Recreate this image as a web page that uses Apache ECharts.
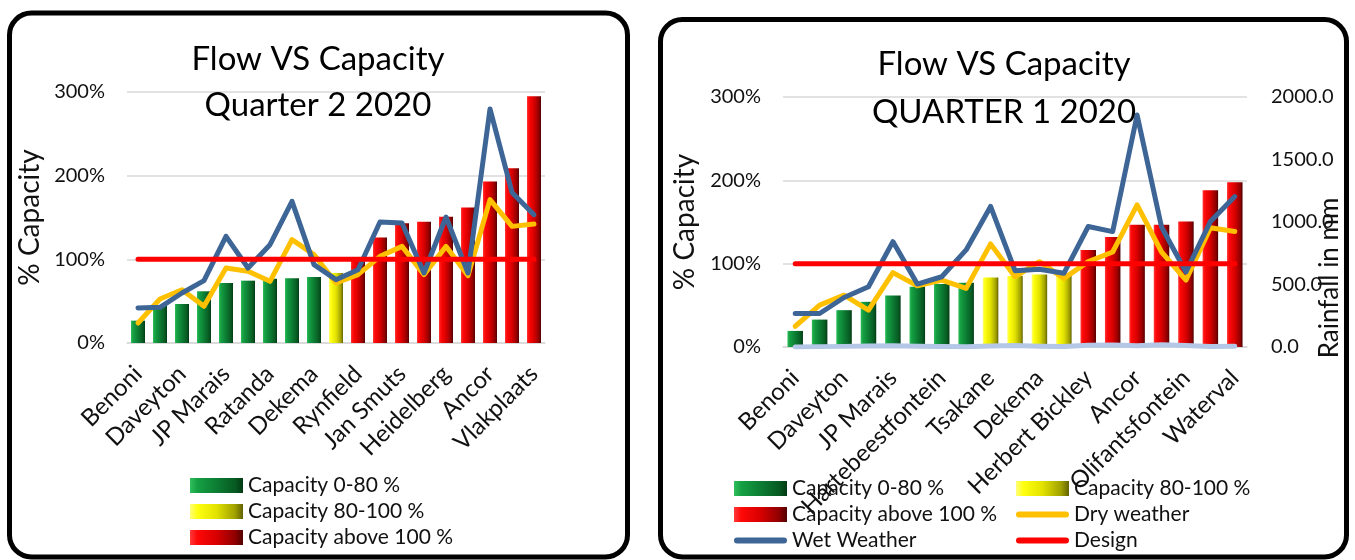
<!DOCTYPE html>
<html>
<head>
<meta charset="utf-8">
<script src="https://cdn.jsdelivr.net/npm/echarts@6/dist/echarts.min.js"></script>
<style>
html,body{margin:0;padding:0;background:#fff;}
#c{width:1355px;height:560px;}
</style>
</head>
<body>
<div id="c"></div>
<script>
// ---------- DATA ----------
const leftCategories = ['Benoni','Carl Grundlingh','Daveyton','Esther Park','JP Marais','Hartebeestfontein','Ratanda','Tsakane','Dekema','Herbert Bickley','Rynfield','Waterval','Jan Smuts','Olifantsfontein','Heidelberg','Rondebult','Ancor','Welgedacht','Vlakplaats'];
const leftCapacity = [26.7,44.6,46.6,61.8,71.7,74.5,76.9,77.3,78.9,83.7,101,126,143,145,151,162,193,209,295];
const leftWet = [41.8,42.6,59.8,74.5,127.5,89.6,117.5,169.3,93.6,75.7,87.6,144.6,143.4,83.7,150.6,83.7,279.7,180,153.4];
const leftDry = [23.9,52.6,63.7,43.8,89.6,85.7,73.7,123.5,105.6,71.7,81.7,103.6,115.5,81.7,115.5,80.5,171.3,139.4,142.2];

const rightCategories = ['Benoni','Carl Grundlingh','Daveyton','Esther Park','JP Marais','Rondebult','Hartebeestfontein','Ratanda','Tsakane','Rynfield','Dekema','Jan Smuts','Herbert Bickley','Heidelberg','Ancor','Welgedacht','Olifantsfontein','Vlakplaats','Waterval'];
const rightCapacity = [19.3,32.9,44.2,54.2,61.8,72.3,75.5,77.1,83.5,85.1,87.1,88.4,116.5,132,146.6,146.6,150.6,188,197.6];
const rightWet = [40.2,40.2,59.4,72.3,126.5,75.5,84.3,116.5,168.7,91.6,93.2,88.4,144.6,138.5,278.5,144,90,150.5,180.5];
const rightDry = [24.9,50.2,62.2,44.2,89.2,73.5,80.3,70.3,123.7,84.3,102.4,82.3,102.4,114,170.5,114,80.3,143,138.5];
const rightRainfall = [0,3,5,8,10,6,4,2,8,12,6,4,14,16,10,18,12,4,6];

const designValue = 100;
const pctTicks = [0,100,200,300];
const rainTicks = [0,500,1000,1500,2000];

const seriesNames = ['Capacity 0-80 %','Capacity 80-100 %','Capacity above 100 %','Dry weather','Wet Weather','Design'];

// ---------- STYLE ----------
const FONT = 'Lato';
function grad(stops){
  return new echarts.graphic.LinearGradient(0,0,1,0, stops.map(c=>({offset:c[0],color:c[1]})));
}
const greenFill = grad([[0,'#2fbf5c'],[0.14,'#15a043'],[0.5,'#0c7d33'],[0.85,'#075a22'],[1,'#033a13']]);
const yellowFill = grad([[0,'#ffff7a'],[0.14,'#ffff10'],[0.5,'#e2e200'],[0.85,'#a0a000'],[1,'#626200']]);
const redFill = grad([[0,'#ff3a3a'],[0.14,'#ff0808'],[0.5,'#d80000'],[0.85,'#900000'],[1,'#520000']]);
const barFills = [greenFill, yellowFill, redFill];
const lineColors = {dry:'#FFC000', wet:'#3D6596', design:'#FF0000', rain:'#B4C7E7'};

function classify(vals, k){
  return vals.map(v => {
    const c = v < 80 ? 0 : (v <= 100 ? 1 : 2);
    return c === k ? v : '-';
  });
}

const lineIcon = 'path://M3,0 L49,0 A3,3 0 0 1 49,6 L3,6 A3,3 0 0 1 3,0 Z';

function buildSeries(idx, caps, wet, dry, cats){
  const s = [];
  for (let k=0;k<3;k++){
    s.push({
      name: seriesNames[k], type:'bar', xAxisIndex: idx, yAxisIndex: idx===0?0:1,
      barGap:'-100%', barWidth: idx===0 ? 14 : 15.5,
      itemStyle:{color: barFills[k]},
      data: classify(caps,k), z:2
    });
  }
  const lineBase = {type:'line', xAxisIndex: idx, yAxisIndex: idx===0?0:1, symbol:'none', showSymbol:false, smooth:false, z:3};
  s.push(Object.assign({}, lineBase, {name:'Dry weather', data: dry, itemStyle:{color:lineColors.dry}, lineStyle:{color:lineColors.dry, width:5, cap:'round', join:'round'}}));
  s.push(Object.assign({}, lineBase, {name:'Wet Weather', data: wet, itemStyle:{color:lineColors.wet}, lineStyle:{color:lineColors.wet, width:5, cap:'round', join:'round'}}));
  s.push(Object.assign({}, lineBase, {name:'Design', data: cats.map(()=>designValue), itemStyle:{color:lineColors.design}, lineStyle:{color:lineColors.design, width:5, cap:'round'}}));
  return s;
}

const series = [].concat(
  buildSeries(0, leftCapacity, leftWet, leftDry, leftCategories),
  buildSeries(1, rightCapacity, rightWet, rightDry, rightCategories),
  [{
    name:'Rainfall', type:'line', xAxisIndex:1, yAxisIndex:2, symbol:'none', z:3,
    data: rightRainfall, itemStyle:{color:lineColors.rain},
    lineStyle:{color:lineColors.rain, width:5, cap:'round', join:'round'}
  }]
);

const axisTxt = {color:'#111', fontFamily:FONT, fontSize:20};
const gridLine = {show:true, lineStyle:{color:'#d9d9d9', width:1.5}};

function xAxis(gridIndex, cats){
  return {
    type:'category', gridIndex, data: cats,
    axisTick:{show:false},
    axisLine:{show:true, lineStyle:{color:'#d9d9d9', width:1.5}},
    axisLabel: {interval:1, rotate:45, margin:27, color:'#111', fontFamily:FONT, fontSize:24}
  };
}

const legendText = {color:'#111', fontFamily:FONT, fontSize:21};

const option = {
  animation:false,
  backgroundColor:'#fff',
  textStyle:{fontFamily:FONT},
  grid:[
    {left:127, top:92, width:418, height:251},
    {left:783, top:97, width:464, height:250}
  ],
  xAxis:[ xAxis(0,leftCategories), xAxis(1,rightCategories) ],
  yAxis:[
    {type:'value', gridIndex:0, min:pctTicks[0], max:pctTicks[pctTicks.length-1], interval:100,
     axisLabel:Object.assign({formatter:'{value}%', margin:22}, axisTxt),
     axisLine:{show:false}, axisTick:{show:false}, splitLine:gridLine,
     name:'% Capacity', nameLocation:'middle', nameGap:83, nameRotate:90,
     nameTextStyle:{color:'#111', fontFamily:FONT, fontSize:28}},
    {type:'value', gridIndex:1, min:pctTicks[0], max:pctTicks[pctTicks.length-1], interval:100,
     axisLabel:Object.assign({formatter:'{value}%', margin:22}, axisTxt),
     axisLine:{show:false}, axisTick:{show:false}, splitLine:gridLine,
     name:'% Capacity', nameLocation:'middle', nameGap:84, nameRotate:90,
     nameTextStyle:{color:'#111', fontFamily:FONT, fontSize:28}},
    {type:'value', gridIndex:1, position:'right', min:rainTicks[0], max:rainTicks[rainTicks.length-1], interval:500,
     axisLabel:Object.assign({formatter:v=>v.toFixed(1), margin:24}, axisTxt),
     axisLine:{show:false}, axisTick:{show:false}, splitLine:{show:false}}
  ],
  legend:[
    {left:190, top:475, height:90, padding:0, orient:'vertical', itemWidth:53, itemHeight:15, itemGap:5,
     data:seriesNames.slice(0,3).map(n=>({name:n, icon:'rect'})),
     textStyle:legendText},
    {left:734, top:478, height:90, padding:0, orient:'vertical', itemWidth:53, itemHeight:15, itemGap:5,
     data:[{name:seriesNames[0],icon:'rect'},{name:seriesNames[2],icon:'rect'},{name:seriesNames[4],icon:lineIcon}],
     textStyle:legendText},
    {left:1016, top:478, height:90, padding:0, orient:'vertical', itemWidth:53, itemHeight:15, itemGap:5,
     data:[{name:seriesNames[1],icon:'rect'},{name:seriesNames[3],icon:lineIcon},{name:seriesNames[5],icon:lineIcon}],
     textStyle:legendText}
  ],
  graphic:[
    {type:'rect', shape:{x:9.5,y:13,width:618,height:544,r:22}, style:{fill:'none', stroke:'#000', lineWidth:5}, z:100},
    {type:'rect', shape:{x:660.5,y:19.5,width:686,height:537.5,r:22}, style:{fill:'none', stroke:'#000', lineWidth:5}, z:100},
    {type:'text', x:318, y:36, style:{text:'Flow VS Capacity\nQuarter 2 2020', align:'center', verticalAlign:'top', font:'33px Lato', lineHeight:46, fill:'#000'}, z:100},
    {type:'text', x:1004, y:40, style:{text:'Flow VS Capacity\nQUARTER 1 2020', align:'center', verticalAlign:'top', font:'33px Lato', lineHeight:48, fill:'#000'}, z:100},
    {type:'text', x:1330, y:278, rotation:Math.PI/2, style:{text:'Rainfall in mm', align:'center', verticalAlign:'middle', font:'26px Lato', fill:'#111'}, z:100}
  ],
  series
};

const chart = echarts.init(document.getElementById('c'), null, {renderer:'canvas'});
chart.setOption(option);
</script>
</body>
</html>
